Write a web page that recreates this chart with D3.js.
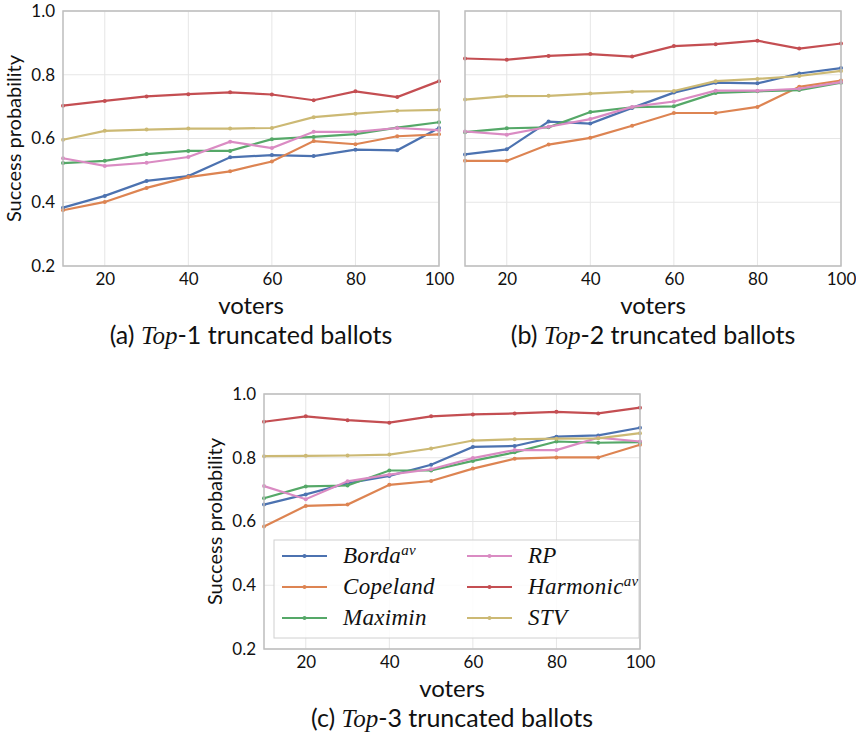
<!DOCTYPE html>
<html>
<head>
<meta charset="utf-8">
<script src="https://cdn.jsdelivr.net/npm/d3@7"></script>
<style>
  body { margin: 0; background: #fff; }
  svg text { fill: #111; }
</style>
</head>
<body>
<div id="chart"></div>
<script>
// data
var voters = [10, 20, 30, 40, 50, 60, 70, 80, 90, 100];
var xTicks = [20, 40, 60, 80, 100];
var yTicks = [0.2, 0.4, 0.6, 0.8, 1.0];
var methods = ["Borda", "Copeland", "Maximin", "RP", "Harmonic", "STV"];
var methodSup = ["av", "", "", "", "av", ""];
var colors = ["#4C72B0", "#DD8452", "#55A868", "#DA8BC3", "#C44E52", "#CCB974"];

// Top-1
var bordaTop1 = [0.383, 0.420, 0.467, 0.482, 0.541, 0.548, 0.545, 0.565, 0.563, 0.633];
var copelandTop1 = [0.375, 0.401, 0.445, 0.479, 0.497, 0.528, 0.592, 0.582, 0.607, 0.613];
var maximinTop1 = [0.523, 0.530, 0.551, 0.561, 0.561, 0.598, 0.605, 0.614, 0.634, 0.651];
var rpTop1 = [0.538, 0.514, 0.524, 0.542, 0.590, 0.570, 0.621, 0.621, 0.633, 0.626];
var harmonicTop1 = [0.703, 0.718, 0.732, 0.739, 0.745, 0.738, 0.720, 0.748, 0.730, 0.780];
var stvTop1 = [0.596, 0.624, 0.628, 0.631, 0.631, 0.633, 0.667, 0.678, 0.687, 0.690];

// Top-2
var bordaTop2 = [0.550, 0.566, 0.653, 0.647, 0.696, 0.744, 0.775, 0.773, 0.804, 0.821];
var copelandTop2 = [0.530, 0.530, 0.581, 0.602, 0.640, 0.680, 0.680, 0.699, 0.762, 0.782];
var maximinTop2 = [0.620, 0.632, 0.635, 0.683, 0.698, 0.701, 0.743, 0.748, 0.752, 0.775];
var rpTop2 = [0.622, 0.612, 0.637, 0.661, 0.699, 0.716, 0.750, 0.750, 0.756, 0.777];
var harmonicTop2 = [0.851, 0.847, 0.859, 0.865, 0.857, 0.890, 0.896, 0.907, 0.882, 0.898];
var stvTop2 = [0.722, 0.733, 0.734, 0.741, 0.747, 0.749, 0.780, 0.787, 0.796, 0.812];

// Top-3
var bordaTop3 = [0.653, 0.685, 0.720, 0.743, 0.778, 0.834, 0.837, 0.866, 0.870, 0.894];
var copelandTop3 = [0.584, 0.649, 0.653, 0.715, 0.727, 0.766, 0.797, 0.801, 0.801, 0.841];
var maximinTop3 = [0.673, 0.710, 0.713, 0.760, 0.760, 0.790, 0.817, 0.851, 0.847, 0.849];
var rpTop3 = [0.711, 0.670, 0.726, 0.747, 0.764, 0.799, 0.824, 0.824, 0.863, 0.851];
var harmonicTop3 = [0.913, 0.930, 0.918, 0.910, 0.930, 0.936, 0.939, 0.944, 0.939, 0.957];
var stvTop3 = [0.805, 0.806, 0.807, 0.810, 0.829, 0.854, 0.858, 0.860, 0.861, 0.877];

var W = 856, H = 736;
var sansFont = "Lato, 'Open Sans', sans-serif";
var serifFont = "'Liberation Serif', 'DejaVu Serif', serif";

var svg = d3.select("#chart").append("svg")
    .attr("width", W)
    .attr("height", H);

// one entry per subplot
var panels = [
    {left: 63, top: 11, label: "(a) ", k: "1", yLabels: true,
     series: [bordaTop1, copelandTop1, maximinTop1, rpTop1, harmonicTop1, stvTop1]},
    {left: 465, top: 11, label: "(b) ", k: "2", yLabels: false,
     series: [bordaTop2, copelandTop2, maximinTop2, rpTop2, harmonicTop2, stvTop2]},
    {left: 264, top: 394, label: "(c) ", k: "3", yLabels: true, legend: true,
     series: [bordaTop3, copelandTop3, maximinTop3, rpTop3, harmonicTop3, stvTop3]}
];
var pw = 376, ph = 255;

panels.forEach(function(p) {
    var g = svg.append("g").attr("transform", "translate(" + p.left + "," + p.top + ")");

    var x = d3.scaleLinear().domain([10, 100]).range([0, pw]);
    var y = d3.scaleLinear().domain([0.2, 1.0]).range([ph, 0]);

    // grid
    g.append("g").selectAll("line.vx")
        .data(xTicks).enter().append("line")
        .attr("x1", d => x(d)).attr("x2", d => x(d))
        .attr("y1", 0).attr("y2", ph)
        .attr("stroke", "#e6e6e6").attr("stroke-width", 1);
    g.append("g").selectAll("line.hy")
        .data(yTicks).enter().append("line")
        .attr("x1", 0).attr("x2", pw)
        .attr("y1", d => y(d)).attr("y2", d => y(d))
        .attr("stroke", "#e6e6e6").attr("stroke-width", 1);

    // x axis
    var xAxis = g.append("g")
        .attr("transform", "translate(0," + ph + ")")
        .call(d3.axisBottom(x).tickValues(xTicks).tickSize(0).tickPadding(7).tickFormat(d3.format("d")));
    xAxis.select(".domain").remove();
    xAxis.selectAll("text")
        .attr("font-family", sansFont)
        .attr("font-size", "17px")
        .attr("fill", "#111");

    // y axis
    var yAxis = g.append("g")
        .call(d3.axisLeft(y).tickValues(yTicks).tickSize(0).tickPadding(8).tickFormat(d3.format(".1f")));
    yAxis.select(".domain").remove();
    if (p.yLabels) {
        yAxis.selectAll("text")
            .attr("font-family", sansFont)
            .attr("font-size", "17px")
            .attr("fill", "#111");
        g.append("text")
            .attr("transform", "translate(-42," + (ph / 2) + ") rotate(-90)")
            .attr("text-anchor", "middle")
            .attr("font-family", sansFont)
            .attr("font-size", "20px")
            .text("Success probability");
    } else {
        yAxis.selectAll("text").remove();
    }

    // lines
    var line = d3.line()
        .x((d, i) => x(voters[i]))
        .y(d => y(d));

    p.series.forEach(function(s, j) {
        g.append("path")
            .datum(s)
            .attr("fill", "none")
            .attr("stroke", colors[j])
            .attr("stroke-width", 2.2)
            .attr("d", line);
        g.append("g").selectAll("circle")
            .data(s).enter().append("circle")
            .attr("cx", (d, i) => x(voters[i]))
            .attr("cy", d => y(d))
            .attr("r", 2)
            .attr("fill", colors[j]);
    });

    // frame
    g.append("rect")
        .attr("width", pw).attr("height", ph)
        .attr("fill", "none")
        .attr("stroke", "#bdbdbd")
        .attr("stroke-width", 1.5);

    // axis title + caption
    g.append("text")
        .attr("x", pw / 2).attr("y", ph + 48)
        .attr("text-anchor", "middle")
        .attr("font-family", sansFont)
        .attr("font-size", "24px")
        .text("voters");
    var cap = g.append("text")
        .attr("x", pw / 2).attr("y", ph + 78)
        .attr("text-anchor", "middle")
        .attr("font-family", sansFont)
        .attr("font-size", "25px");
    cap.append("tspan").text(p.label);
    cap.append("tspan").attr("font-family", serifFont).attr("font-style", "italic").text("Top");
    cap.append("tspan").text("-" + p.k + " truncated ballots");

    if (p.legend) {
        var lg = g.append("g").attr("transform", "translate(10,146)");
        lg.append("rect")
            .attr("width", 365).attr("height", 98)
            .attr("fill", "white").attr("fill-opacity", 0.85)
            .attr("stroke", "#d0d0d0").attr("stroke-width", 1);
        methods.forEach(function(m, j) {
            var col = Math.floor(j / 3), row = j % 3;
            var item = lg.append("g")
                .attr("transform", "translate(" + (8 + col * 185) + "," + (16 + row * 31) + ")");
            item.append("line")
                .attr("x1", 0).attr("x2", 45)
                .attr("stroke", colors[j]).attr("stroke-width", 2.2);
            item.append("circle").attr("cx", 22.5).attr("r", 2).attr("fill", colors[j]);
            var t = item.append("text")
                .attr("x", 61).attr("y", 7)
                .attr("font-family", serifFont)
                .attr("font-style", "italic")
                .attr("font-size", "23px")
                .attr("letter-spacing", "0.3px")
                .text(m);
            if (methodSup[j]) {
                t.append("tspan")
                    .attr("dy", -8)
                    .attr("font-size", "15px")
                    .text(methodSup[j]);
            }
        });
    }
});
</script>
</body>
</html>
